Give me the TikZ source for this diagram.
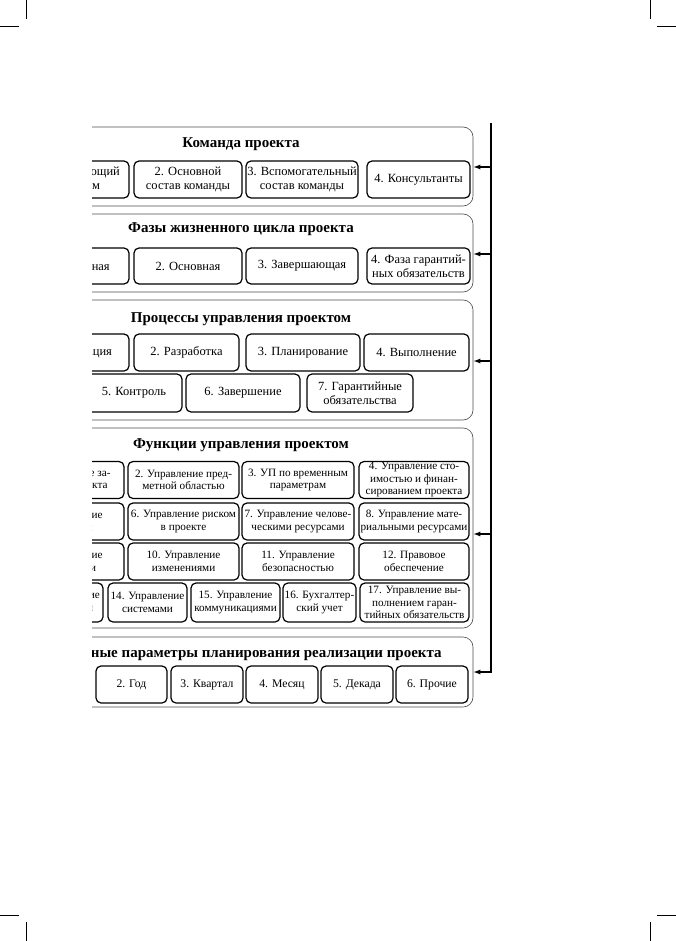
\documentclass[tikz,border=0pt]{standalone}
\usepackage{fontspec}
\setmainfont{Liberation Serif}
\usetikzlibrary{arrows.meta}

\begin{document}
\begin{tikzpicture}[x=1pt,y=-1pt,
  grp/.style={draw=black!70,line width=0.6pt,rounded corners=10pt,inner sep=0pt},
  ttl/.style={anchor=base,font=\fontsize{15}{18}\selectfont\bfseries},
  cell/.style={draw,line width=1.2pt,rounded corners=5pt,align=center,inner sep=0pt,
               minimum height=37pt,font=\fontsize{12.5}{14}\selectfont},
  fcell/.style={cell,font=\fontsize{11.2}{12.5}\selectfont},
  tcell/.style={cell,font=\fontsize{11.7}{14}\selectfont},
  rail/.style={line width=1.2pt,-{Latex[length=7pt,width=5pt]}}]
\useasboundingbox (0,0) rectangle (676,941);
%%%%%%%%%%%%%%%%%%%%%%%%%%%%%%%%
%% crop marks
%%%%%%%%%%%%%%%%%%%%%%%%%%%%%%%%
\draw[line width=0.8pt] (0,26)--(19,26);
\draw[line width=0.8pt] (26,0)--(26,19);
\draw[line width=0.8pt] (650,0)--(650,19);
\draw[line width=0.8pt] (657,26)--(676,26);
\draw[line width=0.8pt] (0,915)--(19,915);
\draw[line width=0.8pt] (26,922)--(26,941);
\draw[line width=0.8pt] (650,922)--(650,941);
\draw[line width=0.8pt] (657,915)--(676,915);

\begin{scope}
\clip (92,0) rectangle (676,941);
%%%%%%%%%%%%%%%%%%%%%%%%%%%%%%%%
%% team
%%%%%%%%%%%%%%%%%%%%%%%%%%%%%%%%
\node[grp,minimum width=464pt,minimum height=79pt] (gTeam) at (241,166.5) {};
\node[ttl] (tTeam) at (241,148) {Команда проекта};
\node[cell,minimum width=108pt] (team1) at (75,179.5)  {1. Управляющий\\проектом};
\node[cell,minimum width=108pt] (team2) at (188,179.5) {2. Основной\\состав команды};
\node[cell,minimum width=112pt] (team3) at (302,179.5) {3. Вспомогательный\\состав команды};
\node[cell,minimum width=103pt] (team4) at (418.5,179.5) {4. Консультанты};
%%%%%%%%%%%%%%%%%%%%%%%%%%%%%%%%
%% phases
%%%%%%%%%%%%%%%%%%%%%%%%%%%%%%%%
\node[grp,minimum width=464pt,minimum height=78pt] (gPhase) at (241,253) {};
\node[ttl] (tPhase) at (241,233) {Фазы жизненного цикла проекта};
\node[cell,minimum width=108pt,minimum height=36pt] (phase1) at (75,266)  {1. Начальная};
\node[cell,minimum width=108pt,minimum height=36pt] (phase2) at (188,266) {2. Основная};
\node[cell,minimum width=112pt,minimum height=36pt] (phase3) at (302,266) {3. Завершающая};
\node[cell,minimum width=103pt,minimum height=36pt] (phase4) at (418.5,266) {4. Фаза гарантий-\\ных обязательств};
%%%%%%%%%%%%%%%%%%%%%%%%%%%%%%%%
%% processes
%%%%%%%%%%%%%%%%%%%%%%%%%%%%%%%%
\node[grp,minimum width=464pt,minimum height=120pt] (gProc) at (241,360) {};
\node[ttl] (tProc) at (241,322) {Процессы управления проектом};
\node[cell,minimum width=108pt] (proc1) at (75,352.5)    {1. Инициация};
\node[cell,minimum width=105pt] (proc2) at (186.5,352.5) {2. Разработка};
\node[cell,minimum width=114pt] (proc3) at (303,352.5)   {3. Планирование};
\node[cell,minimum width=105pt] (proc4) at (416.5,352.5) {4. Выполнение};

\node[cell,minimum width=96pt,minimum height=38pt]  (proc5) at (134,393) {5. Контроль};
\node[cell,minimum width=114pt,minimum height=38pt] (proc6) at (243,393) {6. Завершение};
\node[cell,minimum width=106pt,minimum height=38pt] (proc7) at (360,393) {7. Гарантийные\\обязательства};
%%%%%%%%%%%%%%%%%%%%%%%%%%%%%%%%
%% functions
%%%%%%%%%%%%%%%%%%%%%%%%%%%%%%%%
\node[grp,minimum width=464pt,minimum height=200pt] (gFunc) at (241,528) {};
\node[ttl] (tFunc) at (241,448) {Функции управления проектом};
\node[fcell,minimum width=111pt] (func1) at (68.5,480)  {1. Управление за-\\мыслом проекта};
\node[fcell,minimum width=111pt] (func2) at (183.5,480) {2. Управление пред-\\метной областью};
\node[fcell,minimum width=112pt] (func3) at (298,480)   {3. УП по временным\\параметрам};
\node[fcell,minimum width=110pt] (func4) at (414,480)   {4. Управление сто-\\имостью и финан-\\сированием проекта};

\node[fcell,minimum width=111pt] (func5) at (68.5,521.5)  {5. Управление\\качеством};
\node[fcell,minimum width=111pt] (func6) at (183.5,521.5) {6. Управление риском\\в проекте};
\node[fcell,minimum width=112pt] (func7) at (298,521.5)   {7. Управление челове-\\ческими ресурсами};
\node[fcell,minimum width=110pt] (func8) at (414,521.5)   {8. Управление мате-\\риальными ресурсами};

\node[fcell,minimum width=111pt] (func9)  at (68.5,561.5)  {9. Управление\\поставками};
\node[fcell,minimum width=111pt] (func10) at (183.5,561.5) {10. Управление\\изменениями};
\node[fcell,minimum width=112pt] (func11) at (298,561.5)   {11. Управление\\безопасностью};
\node[fcell,minimum width=110pt] (func12) at (414,561.5)   {12. Правовое\\обеспечение};

\node[fcell,minimum width=80pt,minimum height=39pt]  (func13) at (63,602.5)    {13. Управление\\контрактами};
\node[fcell,minimum width=79pt,minimum height=39pt]  (func14) at (147.5,602.5) {14. Управление\\системами};
\node[fcell,minimum width=89pt,minimum height=39pt]  (func15) at (235.5,602.5) {15. Управление\\коммуникациями};
\node[fcell,minimum width=73pt,minimum height=39pt]  (func16) at (319.5,602.5) {16. Бухгалтер-\\ский учет};
\node[fcell,minimum width=109pt,minimum height=39pt] (func17) at (414.5,602.5) {17. Управление вы-\\полнением гаран-\\тийных обязательств};
%%%%%%%%%%%%%%%%%%%%%%%%%%%%%%%%
%% time parameters
%%%%%%%%%%%%%%%%%%%%%%%%%%%%%%%%
\node[grp,minimum width=464pt,minimum height=70pt] (gTime) at (241,672) {};
\node[ttl] (tTime) at (241,657) {Временные параметры планирования реализации проекта};
\node[tcell,minimum width=71pt] (time2) at (131.5,684.5) {2. Год};
\node[tcell,minimum width=72pt] (time3) at (207,684.5)   {3. Квартал};
\node[tcell,minimum width=72pt] (time4) at (282,684.5)   {4. Месяц};
\node[tcell,minimum width=72pt] (time5) at (357,684.5)   {5. Декада};
\node[tcell,minimum width=72pt] (time6) at (432,684.5)   {6. Прочие};
\end{scope}
%%%%%%%%%%%%%%%%%%%%%%%%%%%%%%%%
%% rail
%%%%%%%%%%%%%%%%%%%%%%%%%%%%%%%%
\coordinate (rTop) at (491,123);
\coordinate (r1) at (491,167);
\coordinate (r2) at (491,254);
\coordinate (r3) at (491,361);
\coordinate (r4) at (491,534);
\coordinate (r5) at (491,672);
\draw[line width=1.2pt] (rTop)--(r4);
\draw[rail] (r1)--(r1 -| gTeam.east);
\draw[rail] (r2)--(r2 -| gPhase.east);
\draw[rail] (r3)--(r3 -| gProc.east);
\draw[rail] (r4)--(r4 -| gFunc.east);
\draw[rail] (r4)--(r5)--(r5 -| gTime.east);
\end{tikzpicture}
\end{document}
